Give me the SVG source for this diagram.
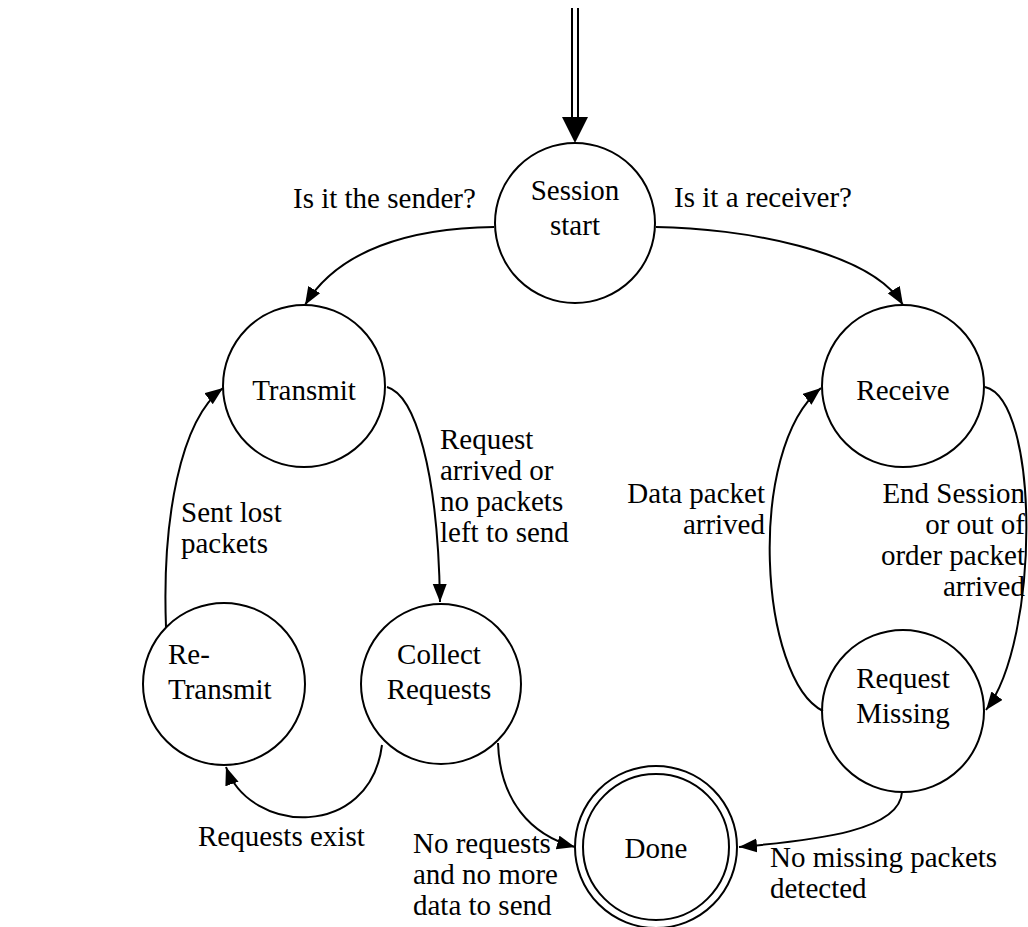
<svg xmlns="http://www.w3.org/2000/svg" width="1028" height="927" viewBox="0 0 1028 927">
  <defs>
    <marker id="arrow" markerUnits="userSpaceOnUse" markerWidth="20" markerHeight="16" refX="18" refY="7" orient="auto">
      <path d="M0,0 L18,7 L0,14 z" fill="#000"/>
    </marker>
    <style>
      text { font-family: "Liberation Serif", "Times New Roman", serif; font-size: 29px; fill: #000; }
      .node { fill: none; stroke: #000; stroke-width: 2; }
      .edge { fill: none; stroke: #000; stroke-width: 2; marker-end: url(#arrow); }
      .mid { text-anchor: middle; }
      .end { text-anchor: end; }
    </style>
  </defs>
  <rect width="1028" height="927" fill="#fff"/>

  <!-- entry arrow -->
  <g id="entry">
    <line x1="572" y1="8" x2="572" y2="118" stroke="#000" stroke-width="2"/>
    <line x1="578" y1="8" x2="578" y2="118" stroke="#000" stroke-width="2"/>
    <path d="M562,117 L588,117 L575,143 z" fill="#000"/>
  </g>

  <!-- transitions -->
  <g id="connectors">
    <path class="edge" d="M494,227 C410,228 338,250 305,305"/>
    <path class="edge" d="M656,227 C740,228 870,250 903,305"/>
    <path class="edge" d="M387,387 C415,395 438,470 440,602"/>
    <path class="edge" d="M166,627 C162,520 180,420 223,388"/>
    <path class="edge" d="M382,745 C370,840 250,835 226,767"/>
    <path class="edge" d="M498,743 C500,800 530,835 575,847"/>
    <path class="edge" d="M902,792 C900,830 820,840 739,847"/>
    <path class="edge" d="M823,711 C760,680 745,450 821,388"/>
    <path class="edge" d="M985,387 C1040,400 1040,640 986,710"/>
  </g>

  <!-- transition labels -->
  <g id="labels">
    <text x="293" y="208">Is it the sender?</text>
    <text x="852" y="207" class="end">Is it a receiver?</text>
    <text x="181" y="522">Sent lost</text>
    <text x="181" y="553">packets</text>
    <text x="440" y="449">Request</text>
    <text x="440" y="480">arrived or</text>
    <text x="440" y="511">no packets</text>
    <text x="440" y="542">left to send</text>
    <text x="765" y="503" class="end">Data packet</text>
    <text x="765" y="534" class="end">arrived</text>
    <text x="1025" y="503" class="end">End Session</text>
    <text x="1025" y="534" class="end">or out of</text>
    <text x="1025" y="565" class="end">order packet</text>
    <text x="1025" y="596" class="end">arrived</text>
    <text x="198" y="846">Requests exist</text>
    <text x="413" y="853">No requests</text>
    <text x="413" y="884">and no more</text>
    <text x="413" y="915">data to send</text>
    <text x="770" y="867">No missing packets</text>
    <text x="770" y="898">detected</text>
  </g>

  <g id="session-start">
    <circle class="node" cx="575" cy="223" r="80"/>
    <text x="575" y="200" class="mid">Session</text>
    <text x="575" y="235" class="mid">start</text>
  </g>
  <g id="transmit">
    <circle class="node" cx="304" cy="386" r="81"/>
    <text x="304" y="400" class="mid">Transmit</text>
  </g>
  <g id="receive">
    <circle class="node" cx="903" cy="386" r="81"/>
    <text x="903" y="400" class="mid">Receive</text>
  </g>
  <g id="re-transmit">
    <circle class="node" cx="224" cy="684" r="81"/>
    <text x="168" y="664">Re-</text>
    <text x="168" y="699">Transmit</text>
  </g>
  <g id="collect-requests">
    <circle class="node" cx="441" cy="684" r="80"/>
    <text x="439" y="664" class="mid">Collect</text>
    <text x="439" y="699" class="mid">Requests</text>
  </g>
  <g id="request-missing">
    <circle class="node" cx="903" cy="711" r="81"/>
    <text x="903" y="688" class="mid">Request</text>
    <text x="903" y="723" class="mid">Missing</text>
  </g>
  <g id="done">
    <circle class="node" cx="656" cy="847" r="81"/>
    <circle class="node" cx="656" cy="847" r="73"/>
    <text x="656" y="858" class="mid">Done</text>
  </g>
</svg>
